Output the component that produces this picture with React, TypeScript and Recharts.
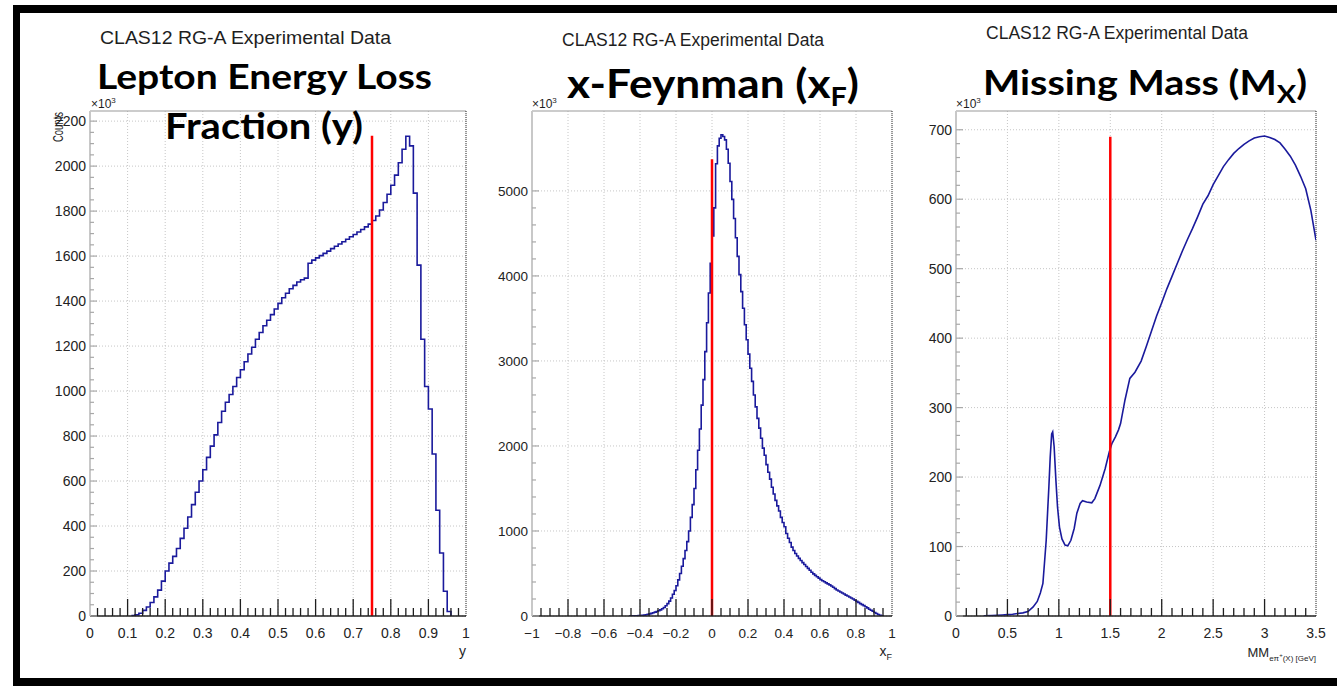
import React from 'react';
import { LineChart, Line, XAxis, YAxis, CartesianGrid, ReferenceLine } from 'recharts';

const W = 1337;
const H = 686;

// Lepton energy loss fraction y : counts (x10^3) per 0.01 bin, first bin starts at 0.11
const yBinStart = 0.11;
const yBinWidth = 0.01;
const yCounts = [
  2, 5, 12, 25, 40, 60, 85, 115, 155, 200,
  235, 265, 300, 345, 390, 440, 495, 550, 600, 650,
  705, 755, 805, 860, 910, 950, 985, 1020, 1060, 1095,
  1130, 1165, 1195, 1230, 1260, 1290, 1315, 1340, 1365, 1390,
  1415, 1435, 1455, 1470, 1485, 1495, 1502, 1568, 1582, 1592,
  1602, 1612, 1622, 1633, 1644, 1654, 1664, 1675, 1686, 1696,
  1707, 1718, 1730, 1742, 1758, 1778, 1805, 1838, 1875, 1915,
  1960, 2015, 2075, 2133, 2090, 1880, 1560, 1230, 1020, 920,
  720, 470, 280, 110, 20,
];
const yCut = 0.75;
const yCutTop = 2135;
const yAxisTicks = [0, 0.1, 0.2, 0.3, 0.4, 0.5, 0.6, 0.7, 0.8, 0.9, 1];
const yCountTicks = [0, 200, 400, 600, 800, 1000, 1200, 1400, 1600, 1800, 2000, 2200];

// x-Feynman : counts (x10^3) per 0.01 bin, first bin starts at -0.46
const xfBinStart = -0.46;
const xfBinWidth = 0.01;
const xfCounts = [
  1, 2, 2, 3, 3, 4, 5, 7, 10, 14,
  19, 25, 31, 38, 45, 53, 62, 72, 85, 100,
  120, 145, 175, 212, 255, 300, 355, 425, 500, 585,
  675, 770, 875, 1000, 1160, 1310, 1500, 1720, 1950, 2200,
  2480, 2780, 3110, 3450, 3800, 4150, 4470, 4800, 5320, 5530,
  5620, 5660, 5640, 5600, 5490, 5325, 5110, 4900, 4675, 4450,
  4230, 4015, 3815, 3620, 3425, 3250, 3080, 2915, 2760, 2600,
  2460, 2325, 2210, 2090, 1975, 1890, 1780, 1690, 1610, 1515,
  1435, 1360, 1295, 1235, 1160, 1100, 1050, 970, 915, 865,
  810, 770, 735, 705, 678, 652, 628, 605, 582, 560,
  538, 515, 495, 478, 462, 446, 428, 414, 402, 390,
  378, 366, 352, 338, 322, 306, 294, 282, 270, 258,
  246, 235, 224, 212, 200, 186, 172, 160, 146, 134,
  122, 108, 95, 80, 68, 55, 42, 30, 18, 9,
  3,
];
const xfCut = 0;
const xfCutTop = 5373;
const xfAxisTicks = [-1, -0.8, -0.6, -0.4, -0.2, 0, 0.2, 0.4, 0.6, 0.8, 1];
const xfCountTicks = [0, 1000, 2000, 3000, 4000, 5000];

// Missing mass MM (GeV) : counts (x10^3)
const mmMass = [
  0.27, 0.35, 0.45, 0.5, 0.55, 0.6, 0.65, 0.7, 0.75, 0.79,
  0.82, 0.845, 0.86, 0.877, 0.89, 0.903, 0.916, 0.93, 0.94, 0.954,
  0.971, 0.987, 1.006, 1.03, 1.06, 1.087, 1.117, 1.149, 1.175, 1.207,
  1.23, 1.27, 1.32, 1.35, 1.4, 1.45, 1.49, 1.515, 1.55, 1.58,
  1.6, 1.643, 1.69, 1.74, 1.8, 1.85, 1.9, 1.95, 2.0, 2.05,
  2.1, 2.15, 2.2, 2.25, 2.3, 2.35, 2.4, 2.45, 2.5, 2.55,
  2.6, 2.65, 2.7, 2.75, 2.8, 2.85, 2.9, 2.95, 3.0, 3.05,
  3.1, 3.15, 3.2, 3.25, 3.3, 3.35, 3.4, 3.45, 3.5,
];
const mmCounts = [
  0.3, 0.8, 1.5, 2, 2.5, 3.5, 4.5, 6.5, 13, 21,
  33, 47, 76, 109, 148, 186, 229, 262, 265, 244,
  196, 157, 128, 111, 102, 101, 109, 126, 148, 162,
  166, 164, 163, 169, 188, 212, 236, 248, 258, 268,
  277, 311, 342, 351, 367, 388, 410, 432, 451, 471,
  489, 507, 525, 542, 558, 575, 593, 605, 621, 634,
  647, 657, 666, 673, 679, 684, 688, 690, 691, 689,
  686, 681, 672, 662, 649, 633, 615, 584, 541,
];
const mmCut = 1.5;
const mmCutTop = 690;
const mmAxisTicks = [0, 0.5, 1, 1.5, 2, 2.5, 3, 3.5];
const mmCountTicks = [0, 100, 200, 300, 400, 500, 600, 700];

type Row = { x: number; v: number };

// bin edges -> rows for a step line, closed back to zero after the last bin
function histRows(start: number, width: number, counts: number[]): Row[] {
  const rows = counts.map((c, i) => ({ x: +(start + i * width).toFixed(4), v: c }));
  rows.push({ x: +(start + counts.length * width).toFixed(4), v: 0 });
  return rows;
}

// all tick positions (major + minor) between the first and last major
function tickSteps(majors: number[], step: number) {
  const lo = majors[0];
  const n = Math.round((majors[majors.length - 1] - lo) / step);
  const out: number[] = [];
  for (let i = 0; i <= n; i++) out.push(+(lo + i * step).toFixed(4));
  return out;
}

const isIn = (v: number, list: number[]) => list.some((m) => Math.abs(m - v) < 1e-6);
const fmt = (v: number) => String(+v.toFixed(3)).replace('-', '\u2212');

const FONT = '"Liberation Sans", Arial, Helvetica, sans-serif';
const BOLD = 'Lato, "Open Sans", "Noto Sans", sans-serif';

type PanelProps = {
  rows: Row[];
  curve: 'stepAfter' | 'linear';
  frame: { left: number; right: number; top: number; bottom: number };
  xDomain: [number, number];
  yDomain: [number, number];
  xMajor: number[];
  xStep: number;
  yMajor: number[];
  yStep: number;
  cut: number;
  cutTop: number;
  fontSize: number;
};

function Panel(p: PanelProps) {
  const yAxisW = 60;
  const xAxisH = 40;
  const margin = {
    top: p.frame.top,
    left: p.frame.left - yAxisW,
    right: W - p.frame.right,
    bottom: H - p.frame.bottom - xAxisH,
  };
  const xTicks = tickSteps(p.xMajor, p.xStep);
  const yTicks = tickSteps(p.yMajor, p.yStep);

  const xTick = (t: any) => {
    const v = t.payload.value;
    const major = isIn(v, p.xMajor);
    const edge = Math.abs(v - p.xDomain[0]) < 1e-6 || Math.abs(v - p.xDomain[1]) < 1e-6;
    return (
      <g>
        {!edge && (
          <line x1={t.x} x2={t.x} y1={t.y} y2={t.y - (major ? 17 : 8)} stroke="#1e1e1e" strokeWidth={1.3} />
        )}
        {major && (
          <text x={t.x} y={t.y + 22} textAnchor="middle" fontFamily={FONT} fontSize={p.fontSize} fill="#222">
            {fmt(v)}
          </text>
        )}
      </g>
    );
  };

  const yTick = (t: any) => {
    const v = t.payload.value;
    const major = isIn(v, p.yMajor);
    return (
      <g>
        <line x1={t.x} x2={t.x + (major ? 7 : 4)} y1={t.y} y2={t.y} stroke="#a8a8a8" strokeWidth={1.2} />
        {major && (
          <text x={t.x - 4} y={t.y + 5} textAnchor="end" fontFamily={FONT} fontSize={p.fontSize} fill="#222">
            {fmt(v)}
          </text>
        )}
      </g>
    );
  };

  return (
    <div style={{ position: 'absolute', left: 0, top: 0 }}>
      <LineChart width={W} height={H} data={p.rows} margin={margin}>
        <CartesianGrid
          stroke="#c6c6c6"
          strokeDasharray="1 2"
          verticalValues={p.xMajor}
          horizontalValues={p.yMajor}
        />
        <XAxis
          dataKey="x"
          type="number"
          domain={p.xDomain}
          ticks={xTicks}
          interval={0}
          height={xAxisH}
          tickSize={0}
          tickMargin={0}
          tickLine={false}
          axisLine={{ stroke: '#222', strokeWidth: 1.4 }}
          tick={xTick}
          allowDataOverflow
        />
        <YAxis
          type="number"
          domain={p.yDomain}
          ticks={yTicks}
          interval={0}
          width={yAxisW}
          tickSize={0}
          tickMargin={0}
          tickLine={false}
          axisLine={{ stroke: '#c8c8c8', strokeWidth: 2 }}
          tick={yTick}
          allowDataOverflow
        />
        <ReferenceLine y={p.yDomain[1]} stroke="#9a9a9a" strokeWidth={1.2} />
        <ReferenceLine x={p.xDomain[1]} stroke="#333" strokeDasharray="1 1" />
        <Line
          dataKey="v"
          type={p.curve}
          stroke="#1a1a9c"
          strokeWidth={1.6}
          dot={false}
          isAnimationActive={false}
        />
        <ReferenceLine
          segment={[{ x: p.cut, y: 0 }, { x: p.cut, y: p.cutTop }]}
          stroke="#ff0000"
          strokeWidth={2.5}
        />
      </LineChart>
    </div>
  );
}

export default function App() {
  const yRows = histRows(yBinStart, yBinWidth, yCounts);
  const xfRows = histRows(xfBinStart, xfBinWidth, xfCounts);
  const mmRows = mmMass.map((m, i) => ({ x: m, v: mmCounts[i] }));

  return (
    <div style={{ position: 'absolute', left: 0, top: 0, width: W, height: H, background: '#fff', overflow: 'hidden' }}>
      <Panel
        rows={yRows}
        curve="stepAfter"
        frame={{ left: 90, right: 466, top: 111, bottom: 616 }}
        xDomain={[0, 1]}
        yDomain={[0, 2245]}
        xMajor={yAxisTicks}
        xStep={0.02}
        yMajor={yCountTicks}
        yStep={50}
        cut={yCut}
        cutTop={yCutTop}
        fontSize={14}
      />
      <Panel
        rows={xfRows}
        curve="stepAfter"
        frame={{ left: 532, right: 892, top: 111, bottom: 616 }}
        xDomain={[-1, 1]}
        yDomain={[0, 5940]}
        xMajor={xfAxisTicks}
        xStep={0.05}
        yMajor={xfCountTicks}
        yStep={200}
        cut={xfCut}
        cutTop={xfCutTop}
        fontSize={13.5}
      />
      <Panel
        rows={mmRows}
        curve="linear"
        frame={{ left: 956, right: 1316, top: 111, bottom: 616 }}
        xDomain={[0, 3.5]}
        yDomain={[0, 727]}
        xMajor={mmAxisTicks}
        xStep={0.1}
        yMajor={mmCountTicks}
        yStep={20}
        cut={mmCut}
        cutTop={mmCutTop}
        fontSize={14}
      />

      {/* headers, titles and axis titles */}
      <svg width={W} height={H} style={{ position: 'absolute', left: 0, top: 0, pointerEvents: 'none' }}>
        <g fontFamily={FONT} fill="#1e1e1e">
          <text x={100} y={44} fontSize={19} textLength={291} lengthAdjust="spacingAndGlyphs">
            CLAS12 RG-A Experimental Data
          </text>
          <text x={562} y={46} fontSize={17.5} textLength={262} lengthAdjust="spacingAndGlyphs">
            CLAS12 RG-A Experimental Data
          </text>
          <text x={986} y={39} fontSize={17.5} textLength={262} lengthAdjust="spacingAndGlyphs">
            CLAS12 RG-A Experimental Data
          </text>

          <text x={91} y={108} fontSize={12}>
            ×10<tspan dy={-5} fontSize={8}>3</tspan>
          </text>
          <text x={532} y={108} fontSize={12}>
            ×10<tspan dy={-5} fontSize={8}>3</tspan>
          </text>
          <text x={956} y={108} fontSize={12}>
            ×10<tspan dy={-5} fontSize={8}>3</tspan>
          </text>

          <text
            transform="translate(63,127) rotate(-90)"
            textAnchor="middle"
            fontSize={15}
            textLength={30}
            lengthAdjust="spacingAndGlyphs"
          >
            Counts
          </text>

          <text x={466} y={656} textAnchor="end" fontSize={14}>
            y
          </text>
          <text x={892} y={656} textAnchor="end" fontSize={14}>
            x<tspan fontSize={9} dy={4}>F</tspan>
          </text>
          <text x={1316} y={657} textAnchor="end" fontSize={13}>
            MM<tspan fontSize={8} dy={4}>eπ</tspan>
            <tspan fontSize={6} dy={-4}>+</tspan>
            <tspan fontSize={8} dy={4}>(X) [GeV]</tspan>
          </text>
        </g>

        <g fontFamily={BOLD} fontWeight={700} fill="#000">
          <text x={97} y={89} fontSize={35} textLength={335} lengthAdjust="spacingAndGlyphs">
            Lepton Energy Loss
          </text>
          <text x={165} y={139} fontSize={36} textLength={198} lengthAdjust="spacingAndGlyphs">
            Fraction (y)
          </text>
          <text x={567} y={98} fontSize={40} textLength={292} lengthAdjust="spacingAndGlyphs">
            x-Feynman (x<tspan fontSize={26} dy={8}>F</tspan>
            <tspan dy={-8}>)</tspan>
          </text>
          <text x={983} y={95} fontSize={34} textLength={324} lengthAdjust="spacingAndGlyphs">
            Missing Mass (M<tspan fontSize={25} dy={8}>X</tspan>
            <tspan dy={-8}>)</tspan>
          </text>
        </g>
      </svg>

      {/* slide frame */}
      <div style={{ position: 'absolute', left: 13, top: 5, width: W - 13, height: 8, background: '#000' }} />
      <div style={{ position: 'absolute', left: 13, top: 5, width: 7, height: H - 5, background: '#000' }} />
      <div style={{ position: 'absolute', left: 13, top: 678, width: W - 13, height: 8, background: '#000' }} />
    </div>
  );
}
